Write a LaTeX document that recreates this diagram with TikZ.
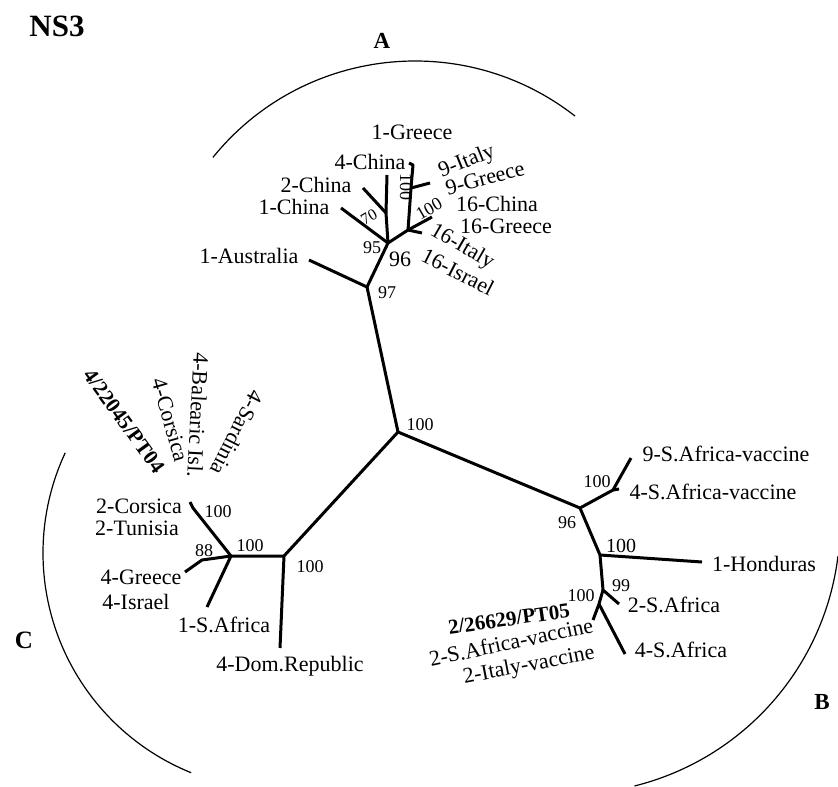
\documentclass[tikz,border=0pt]{standalone}
\usepackage{fontspec}
\setmainfont{Liberation Serif}
\begin{document}
\begin{tikzpicture}[x=1pt,y=-1pt,
	branch/.style={line width=3pt,line join=round},
	clade/.style={line width=1.2pt},
	tip/.style={inner sep=0pt,font=\fontsize{22}{24}\selectfont},
	boot/.style={inner sep=0pt,font=\fontsize{18}{20}\selectfont},
	grp/.style={inner sep=0pt,font=\fontsize{23}{26}\selectfont\bfseries}]
	\useasboundingbox (0,0) rectangle (838,787);

	% cim es csoportok
	\node[grp,font=\fontsize{31}{34}\selectfont\bfseries] (title) at (57,26) {NS3};
	\node[grp] (grpA) at (382,41) {A};
	\node[grp] (grpB) at (822,702) {B};
	\node[grp,font=\fontsize{25}{28}\selectfont\bfseries] (grpC) at (24,640) {C};

	% ivek
	\coordinate (cA) at (415,321);
	\coordinate (cB) at (569,523);
	\coordinate (cC) at (280,553);
	\draw[clade] (cA) ++(52:260pt) arc (52:141:260pt);
	\draw[clade] (cB) ++(-7:271pt) arc (-7:-76:271pt);
	\draw[clade] (cC) ++(155:237pt) arc (155:248:237pt);

	% belso pontok
	\coordinate (root) at (398,432);
	\coordinate (a97) at (367,287);
	\coordinate (a95) at (388,243);
	\coordinate (a70) at (386,213);
	\coordinate (a96) at (408,230);
	\coordinate (a100) at (411,188);
	\coordinate (b96) at (580,508);
	\coordinate (b100) at (613,490);
	\coordinate (bhon) at (600,555);
	\coordinate (b99) at (603,590);
	\coordinate (b100b) at (599,604);
	\coordinate (c100) at (284,556);
	\coordinate (cin) at (231,556);
	\coordinate (c88) at (202,560);

	% levelek
	\coordinate (tAus) at (309,260);
	\coordinate (tChinaI) at (341,208);
	\coordinate (tChinaII) at (363,188);
	\coordinate (tChinaIV) at (387,175);
	\coordinate (tGreeceI) at (413,165);
	\coordinate (tGreeceIx) at (409,163);
	\coordinate (tItalyIX) at (430,183);
	\coordinate (tChinaXVI) at (432,217);
	\coordinate (tItalyXVI) at (422,233);
	\coordinate (tSAvIX) at (631,458);
	\coordinate (tSAvIV) at (619,489);
	\coordinate (tHond) at (702,562);
	\coordinate (tSAII) at (619,604);
	\coordinate (tPT) at (593,620);
	\coordinate (tSAIV) at (625,654);
	\coordinate (tCors) at (193,508);
	\coordinate (tCorsx) at (190,502);
	\coordinate (tGreeceIV) at (185,572);
	\coordinate (tSAI) at (207,607);
	\coordinate (tDom) at (280,648);

	% agak
	\draw[branch] (root) -- (a97) -- (tAus);
	\draw[branch] (a97) -- (a95) -- (tChinaI);
	\draw[branch] (a95) -- (a70) -- (tChinaIV);
	\draw[branch] (a70) -- (tChinaII);
	\draw[branch] (a95) -- (a96) -- (tChinaXVI);
	\draw[branch] (a96) -- (tItalyXVI);
	\draw[branch] (a96) -- (a100) -- (tGreeceI) -- (tGreeceIx);
	\draw[branch] (a100) -- (tItalyIX);
	\draw[branch] (root) -- (b96) -- (b100) -- (tSAvIX);
	\draw[branch] (b100) -- (tSAvIV);
	\draw[branch] (b96) -- (bhon) -- (tHond);
	\draw[branch] (bhon) -- (b99) -- (tSAII);
	\draw[branch] (b99) -- (b100b) -- (tPT);
	\draw[branch] (b100b) -- (tSAIV);
	\draw[branch] (root) -- (c100) -- (tDom);
	\draw[branch] (c100) -- (cin) -- (c88) -- (tGreeceIV);
	\draw[branch] (cin) -- (tSAI);
	\draw[branch] (cin) -- (tCors) -- (tCorsx);

	% bootstrap ertekek
	\node[boot] (lroot) at (420,425) {100};
	\node[boot] (la97) at (387,293) {97};
	\node[boot,font=\fontsize{22}{24}\selectfont] (la96) at (400,259) {96};
	\node[boot] (la95) at (372,248) {95};
	\node[boot,font=\fontsize{16}{18}\selectfont,rotate=30] (la70) at (369,217) {70};
	\node[boot,rotate=-90] (la100) at (406,187) {100};
	\node[boot,rotate=30] (la100b) at (429,209) {100};
	\node[boot] (lb100) at (597,482) {100};
	\node[boot] (lb96) at (567,523) {96};
	\node[boot,font=\fontsize{20}{22}\selectfont] (lbhon) at (621,546) {100};
	\node[boot] (lb99) at (621,586) {99};
	\node[boot] (lb100b) at (581,596) {100};
	\node[boot] (lc100) at (310,567) {100};
	\node[boot] (lcin) at (250,546) {100};
	\node[boot] (lc88) at (204,551) {88};
	\node[boot] (lcors) at (218,512) {100};

	% A csoport nevei
	\node[tip] (nGreeceI) at (412,132) {1-Greece};
	\node[tip] (nChinaIV) at (370,162) {4-China};
	\node[tip] (nChinaII) at (316,185) {2-China};
	\node[tip] (nChinaI) at (294,207) {1-China};
	\node[tip] (nAus) at (249,256) {1-Australia};
	\node[tip,rotate=22] (nItalyIX) at (467,162) {9-Italy};
	\node[tip,rotate=15] (nGreeceIX) at (485,178) {9-Greece};
	\node[tip] (nChinaXVI) at (497,204) {16-China};
	\node[tip] (nGreeceXVI) at (506,226) {16-Greece};
	\node[tip,rotate=-30] (nItalyXVI) at (462,247) {16-Italy};
	\node[tip,rotate=-27] (nIsraelXVI) at (458,272) {16-Israel};

	% B csoport nevei
	\node[tip] (nSAvIX) at (726,454) {9-S.Africa-vaccine};
	\node[tip] (nSAvIV) at (713,492) {4-S.Africa-vaccine};
	\node[tip] (nHond) at (764,564) {1-Honduras};
	\node[tip] (nSAII) at (674,605) {2-S.Africa};
	\node[tip] (nSAIV) at (681,650) {4-S.Africa};
	\node[tip,font=\fontsize{21}{24}\selectfont\bfseries,rotate=8] (nPT) at (509,619) {2/26629/PT05};
	\node[tip,rotate=12] (nSAvII) at (511,642) {2-S.Africa-vaccine};
	\node[tip,rotate=11] (nItalyv) at (529,666) {2-Italy-vaccine};

	% C csoport nevei
	\node[tip] (nCors) at (139,506) {2-Corsica};
	\node[tip] (nTun) at (137,528) {2-Tunisia};
	\node[tip] (nGreeceIV) at (141,577) {4-Greece};
	\node[tip] (nIsraelIV) at (136,602) {4-Israel};
	\node[tip] (nSAI) at (224,625) {1-S.Africa};
	\node[tip] (nDom) at (290,666) {4-Dom.Republic};
	\node[tip,font=\fontsize{21}{24}\selectfont\bfseries,rotate=-54] (nPTc) at (124,421) {4/22045/PT04};
	\node[tip,rotate=-74] (nCorsIV) at (170,420) {4-Corsica};
	\node[tip,rotate=-93] (nBal) at (198,415) {4-Balearic Isl.};
	\node[tip,rotate=-117] (nSard) at (237,433) {4-Sardinia};
\end{tikzpicture}
\end{document}
